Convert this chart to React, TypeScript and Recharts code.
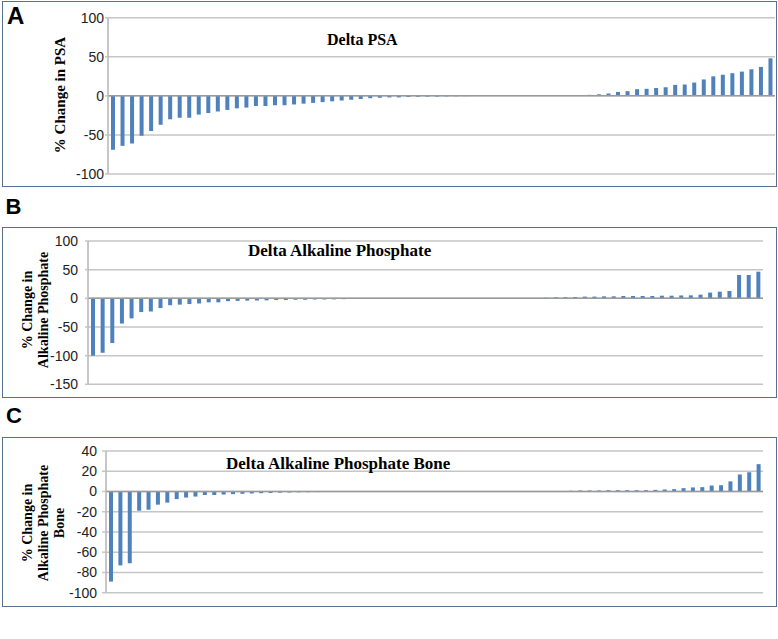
import { BarChart, Bar, XAxis, YAxis, CartesianGrid, ReferenceLine } from "recharts";

// % change per patient, sorted (waterfall)
const psaChange = [
  -69, -64, -61, -51, -45, -37, -30, -28, -28, -24, -22, -20, -18, -16, -15, -13, -13, -12,
  -12, -11, -10, -9, -8, -7, -6, -5, -4, -3, -2.5, -2, -2, -1.5, -1.2, -1, -1, -0.7, -0.5,
  -0.3, -0.2, -0.1, 0, 0, 0, 0, 0, 0.1, 0.2, 0.4, 0.5, 1, 1.3, 2, 3, 5, 6, 8.5, 9, 10, 11,
  14, 14.5, 17, 21, 25, 27, 29, 31, 34, 37, 48,
];

const alpChange = [
  -100, -95, -78, -44, -35, -24, -23, -17, -12, -11, -10, -9, -7, -7, -5, -4.5, -4, -4, -3.5,
  -3, -3, -2.5, -2.5, -2, -2, -1.8, -1.5, -1.2, -1, -0.7, -0.6, -0.5, -0.4, -0.3, -0.3, -0.2,
  -0.1, 0, 0, 0, 0, 0, 0, 0, 0, 0.2, 0.5, 1, 1.7, 2, 2.3, 3, 3, 3.5, 3.5, 4, 4, 4, 4, 4.6,
  4.6, 5, 5.2, 6.4, 10, 11.6, 12.8, 40.7, 40.7, 46.5,
];

const alpBoneChange = [
  -89, -73, -71, -19, -18, -13, -11, -7.5, -6, -5, -3.5, -3.5, -3, -2.6, -2.3, -2, -1.7, -1.5,
  -1.2, -1, -0.8, -0.7, -0.6, -0.5, -0.4, -0.3, -0.3, -0.2, -0.2, -0.1, 0, 0, 0, 0, 0, 0, 0,
  0, 0, 0, 0, 0, 0, 0, 0, 0, 0.2, 0.4, 0.5, 0.7, 1, 1, 1, 1.3, 1.3, 1.3, 1.3, 1.3, 1.6, 2,
  2.3, 3.3, 4, 4.3, 5.9, 6.2, 10, 16.8, 19, 27,
];

const psaTicks = [-100, -50, 0, 50, 100];
const alpTicks = [-150, -100, -50, 0, 50, 100];
const boneTicks = [-100, -80, -60, -40, -20, 0, 20, 40];

const BLUE = "#4f81bd";
const GRID = "#c6c6c6";
const BORDER = "#56708f";
const serif = "'Liberation Serif', 'Times New Roman', serif";
const sans = "'Liberation Sans', Arial, sans-serif";

const toRows = (values: number[]) => values.map((v, i) => ({ id: i + 1, v }));

function AxisTitle({ lines, cx, cy, size }: { lines: string[]; cx: number[]; cy: number; size: number }) {
  return (
    <g>
      {lines.map((line, i) => (
        <text
          key={i}
          transform={`translate(${cx[i]},${cy}) rotate(-90)`}
          textAnchor="middle"
          dominantBaseline="central"
          fontFamily={serif}
          fontWeight="bold"
          fontSize={size}
          fill="#000"
        >
          {line}
        </text>
      ))}
    </g>
  );
}

interface PanelProps {
  values: number[];
  ticks: number[];
  top: number;
  height: number;
  margin: { top: number; right: number; bottom: number; left: number };
  axisWidth: number;
  tickSize: number;
  tickMargin: number;
  titleLines: string[];
  titleX: number[];
  titleY: number;
  titleSize: number;
}

function Panel(p: PanelProps) {
  return (
    <div style={{ position: "absolute", left: 2, top: p.top, width: 775, height: p.height }}>
      <BarChart width={775} height={p.height} data={toRows(p.values)} margin={p.margin}>
        <CartesianGrid vertical={false} stroke={GRID} strokeWidth={1.5} />
        <XAxis dataKey="id" hide />
        <YAxis
          width={p.axisWidth}
          domain={[p.ticks[0], p.ticks[p.ticks.length - 1]]}
          ticks={p.ticks}
          interval={0}
          tickSize={p.tickSize}
          tickMargin={p.tickMargin}
          axisLine={{ stroke: "#b4b4b4", strokeWidth: 1.5 }}
          tickLine={{ stroke: GRID, strokeWidth: 1.5 }}
          tick={{ fontSize: 14, fill: "#222", fontFamily: sans }}
          label={{
            content: () => (
              <AxisTitle lines={p.titleLines} cx={p.titleX} cy={p.titleY} size={p.titleSize} />
            ),
          }}
        />
        <ReferenceLine y={0} stroke="#9a9a9a" strokeWidth={1.5} />
        <Bar dataKey="v" fill={BLUE} barSize={4} isAnimationActive={false} />
      </BarChart>
      <div
        style={{
          position: "absolute",
          left: 0,
          top: 0,
          width: 775,
          height: p.height,
          boxSizing: "border-box",
          border: `1.5px solid ${BORDER}`,
          pointerEvents: "none",
        }}
      />
    </div>
  );
}

const letter = (ch: string, left: number, top: number, size: number) => (
  <div
    style={{
      position: "absolute",
      left,
      top,
      fontFamily: sans,
      fontWeight: "bold",
      fontSize: size,
      lineHeight: `${size}px`,
      color: "#000",
    }}
  >
    {ch}
  </div>
);

const title = (text: string, left: number, top: number, size: number) => (
  <div
    style={{
      position: "absolute",
      left,
      top,
      fontFamily: serif,
      fontWeight: "bold",
      fontSize: size,
      lineHeight: `${size}px`,
      color: "#000",
      whiteSpace: "nowrap",
    }}
  >
    {text}
  </div>
);

export default function App() {
  return (
    <div style={{ position: "absolute", left: 0, top: 0, width: 778, height: 639, background: "#fff" }}>
      <Panel
        values={psaChange}
        ticks={psaTicks}
        top={1}
        height={186}
        margin={{ top: 16.7, right: 2, bottom: 13, left: 0 }}
        axisWidth={106}
        tickSize={3}
        tickMargin={1}
        titleLines={["% Change in PSA"]}
        titleX={[58]}
        titleY={94}
        titleSize={15}
      />
      {letter("A", 7, 4, 24)}
      {title("Delta PSA", 327, 32, 16)}

      <Panel
        values={alpChange}
        ticks={alpTicks}
        top={227}
        height={171}
        margin={{ top: 14, right: 14, bottom: 13.7, left: 0 }}
        axisWidth={86}
        tickSize={3}
        tickMargin={7}
        titleLines={["% Change in", "Alkaline Phosphate"]}
        titleX={[25, 41]}
        titleY={83}
        titleSize={14}
      />
      {letter("B", 5.5, 195.5, 22)}
      {title("Delta Alkaline Phosphate", 248, 241.5, 17)}

      <Panel
        values={alpBoneChange}
        ticks={boneTicks}
        top={437}
        height={170}
        margin={{ top: 14, right: 14, bottom: 14.3, left: 0 }}
        axisWidth={104}
        tickSize={4}
        tickMargin={5}
        titleLines={["% Change in", "Alkaline Phosphate", "Bone"]}
        titleX={[25, 41, 57]}
        titleY={86}
        titleSize={14}
      />
      {letter("C", 6, 404.5, 22)}
      {title("Delta Alkaline Phosphate Bone", 226, 454.8, 17)}
    </div>
  );
}
